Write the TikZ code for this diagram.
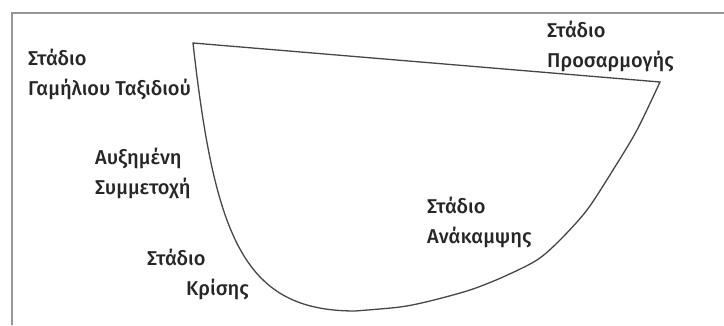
\documentclass[tikz,border=0pt]{standalone}
\usepackage{fontspec}
\setmainfont{Fira Sans}
\newfontfamily\stagefont{Fira Sans Medium}
\usetikzlibrary{positioning}
\definecolor{inkgray}{RGB}{70,70,70}
\definecolor{framegray}{RGB}{150,150,150}
\tikzset{
  stage label/.style={
    anchor=base west, align=left, inner sep=0pt,
    text=black!85, font=\stagefont\fontsize{20}{30}\selectfont
  },
  stage curve/.style={draw=inkgray, line width=1.3pt, line join=miter},
  frame line/.style={draw=framegray, line width=1.6pt}
}
\begin{document}
\begin{tikzpicture}[x=1pt, y=-1pt]
    \useasboundingbox (0,0) rectangle (724,325);
    \draw[frame line] (12,325) -- (12,13) -- (724,13);
    \coordinate (honeytip) at (193,43);
    \coordinate (adjusttip) at (660,82);
    \coordinate (crisislow) at (355,311);
    \draw[stage curve] (honeytip) -- (adjusttip) -- plot[smooth, tension=0.5] coordinates {
      (660,82) (637,130) (613,170) (587,210) (560,240) (537,260) (503,277) (470,290)
      (430,301) (400,307) (355,311)}
      .. controls (245,311) and (215,240) .. (honeytip) -- cycle;
    \node[stage label] (honeymoon) at (28,95) {Στάδιο\\Γαμήλιου Ταξιδιού};
    \node[stage label] (adjustment) at (547,67) {Στάδιο\\Προσαρμογής};
    \node[stage label] (involvement) at (95,194) {Αυξημένη\\Συμμετοχή};
    \node[stage label] (crisis) at (147,295) {Στάδιο\\\hspace*{39pt}Κρίσης};
    \node[stage label] (recovery) at (427,243) {Στάδιο\\Ανάκαμψης};
\end{tikzpicture}
\end{document}
